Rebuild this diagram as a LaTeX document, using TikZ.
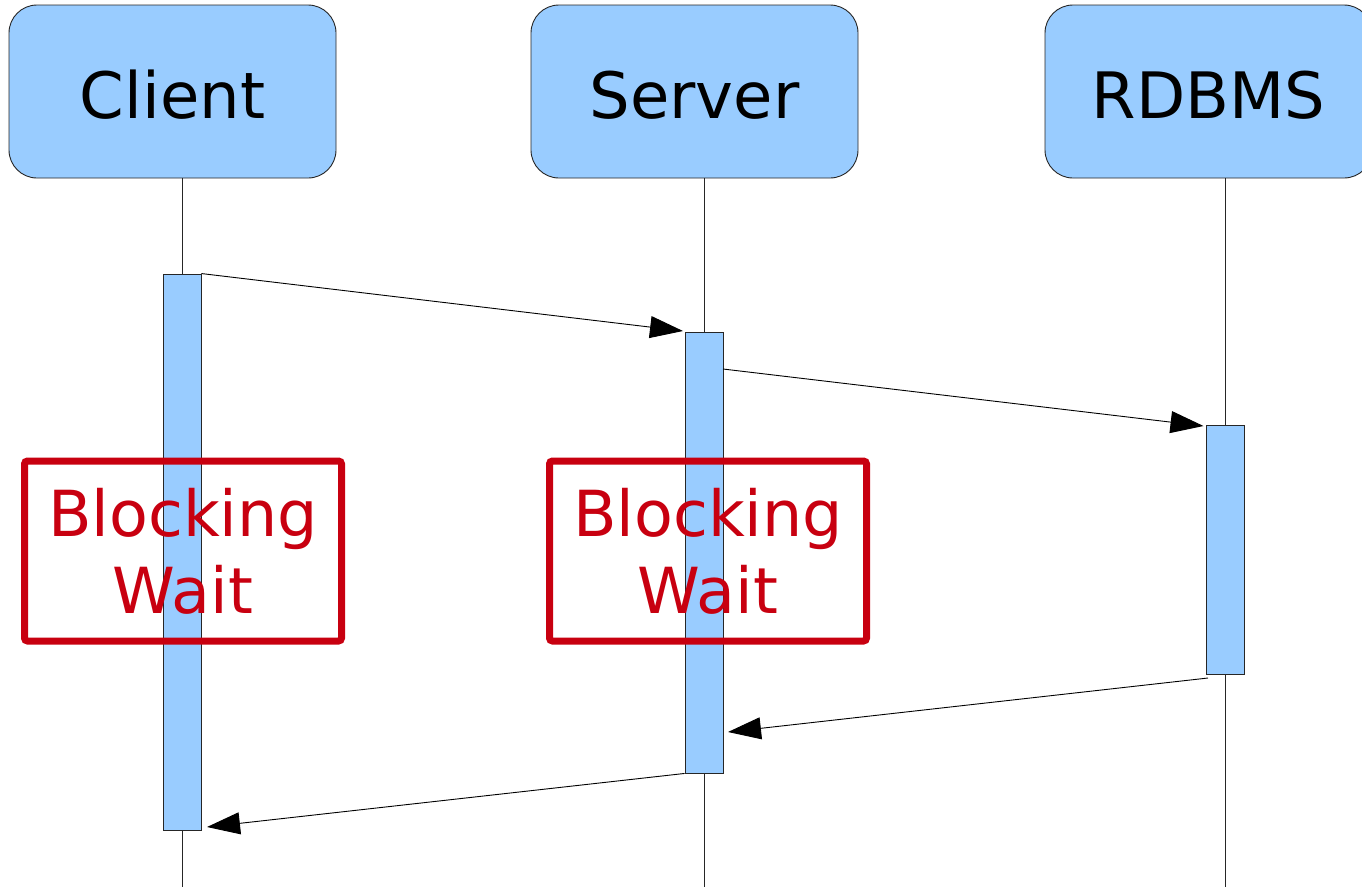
\documentclass[tikz,border=0pt]{standalone}
\usepackage{fontspec}
\setmainfont{DejaVu Sans}
\usetikzlibrary{arrows.meta,calc}
\definecolor{boxblue}{HTML}{99CCFF}
\definecolor{blockred}{RGB}{200,0,16}
\tikzset{
  hdr/.style={draw=black!85, line width=0.9pt, fill=boxblue, rounded corners=28pt,
    minimum width=327pt, minimum height=173pt, inner sep=0pt,
    text height=53pt, text depth=0pt,
    font=\fontsize{64}{77}\selectfont},
  actbar/.style={draw=black!85, line width=0.9pt, fill=boxblue, minimum width=38pt, inner sep=0pt},
  lifeline/.style={draw=black!85, line width=0.9pt},
  msg/.style={draw=black, line width=0.9pt, -{Triangle[length=33pt,width=22pt]}},
  waitbox/.style={draw=blockred, line width=7pt, rounded corners=3pt, text=blockred,
    minimum width=317pt, minimum height=180pt, align=center, inner sep=0pt,
    font=\fontsize{63.5}{77}\selectfont}
}
\begin{document}
\begin{tikzpicture}[x=1pt,y=-1pt]
\fill[white] (0,0) rectangle (1362,887);
\useasboundingbox (0,0) rectangle (1362,887);
% headers
\node[hdr] (client) at (172.5,91.5) {Client};
\node[hdr] (server) at (694.5,91.5) {Server};
\node[hdr] (rdbms) at (1208.5,91.5) {RDBMS};
% lifeline ends
\coordinate (cend) at (182,887);
\coordinate (send) at (704,887);
\coordinate (rend) at (1225.5,887);
\draw[lifeline] (182,178) -- (cend);
\draw[lifeline] (704,178) -- (send);
\draw[lifeline] (1225.5,178) -- (rend);
% activation bars
\node[actbar, minimum height=556pt] (cbar) at (182,552) {};
\node[actbar, minimum height=441pt] (sbar) at (704,552.5) {};
\node[actbar, minimum height=249pt] (rbar) at (1225.5,549.5) {};
% messages
\coordinate (m2start) at (723,369);
\coordinate (m3start) at (1208,678);
\coordinate (m3tip) at (728,732);
\coordinate (m4tip) at (207,827);
\coordinate (m1tip) at (683,331);
\coordinate (m2tip) at (1203.5,426);
\draw[msg] (cbar.north east) -- (m1tip);
\draw[msg] (m2start) -- (m2tip);
\draw[msg] (m3start) -- (m3tip);
\draw[msg] (sbar.south west) -- (m4tip);
% blocking wait boxes
\node[waitbox] (wait1) at (183,551) {Blocking\\Wait};
\node[waitbox] (wait2) at (708,551) {Blocking\\Wait};
\end{tikzpicture}
\end{document}
